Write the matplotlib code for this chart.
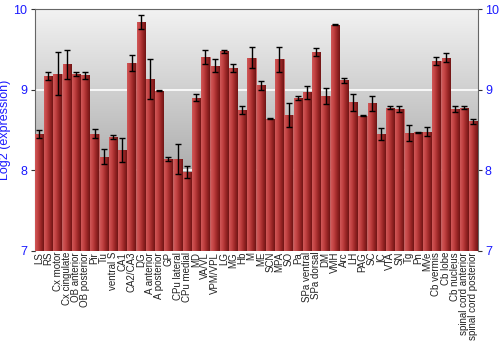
import matplotlib
matplotlib.use("Agg")
import matplotlib.pyplot as plt
import numpy as np

plt.rcParams['font.family'] = ['Liberation Sans', 'DejaVu Sans']

regiones = ["LS", "RS", "Cx motor", "Cx cingulate", "OB anterior", "OB posterior",
            "Pir", "Tu", "ventral S", "CA1", "CA2/CA3", "DG", "A anterior",
            "A posterior", "GP", "CPu lateral", "CPu medial", "MD", "VA/VL",
            "VPM/VPL", "LG", "MG", "Hb", "M", "ME", "SCN", "MPA", "SO", "Pa",
            "SPa ventral", "SPa dorsal", "DM", "VMH", "Arc", "LH", "PAG", "SC",
            "IC", "VTA", "SN", "Tg", "Pn", "MVe", "Cb vermis", "Cb lobe",
            "Cb nucleus", "spinal cord anterior", "spinal cord posterior"]

expresion = [8.45, 9.17, 9.20, 9.32, 9.20, 9.18, 8.455, 8.17, 8.41, 8.25,
             9.33, 9.84, 9.135, 8.99, 8.14, 8.14, 7.98, 8.90, 9.41, 9.30,
             9.48, 9.27, 8.745, 9.40, 9.056, 8.64, 9.38, 8.69, 8.90, 8.97,
             9.47, 8.92, 9.81, 9.12, 8.845, 8.68, 8.83, 8.45, 8.78, 8.76,
             8.46, 8.47, 8.48, 9.36, 9.40, 8.76, 8.78, 8.61]

error = [0.05, 0.05, 0.27, 0.18, 0.025, 0.045, 0.06, 0.09, 0.025, 0.15,
         0.10, 0.085, 0.25, 0.01, 0.02, 0.19, 0.075, 0.045, 0.083, 0.083,
         0.017, 0.054, 0.048, 0.127, 0.054, 0.008, 0.157, 0.15, 0.025, 0.083,
         0.046, 0.10, 0.005, 0.033, 0.105, 0.008, 0.093, 0.08, 0.017, 0.04,
         0.10, 0.008, 0.054, 0.054, 0.054, 0.04, 0.017, 0.03]

AZUL = '#1a1aff'

fig = plt.figure(figsize=(5, 3.5), dpi=100)
ax = fig.add_axes([0.069, 0.284, 0.887, 0.689])

x = np.arange(len(regiones))
ax.set_xlim(-0.5, len(regiones) - 0.5)
ax.set_ylim(7, 10)

# fondo degradado
grad = np.linspace(0, 1, 256).reshape(-1, 1)
fondo = matplotlib.colors.LinearSegmentedColormap.from_list('f', ['#8c8c8c', '#f2f2f2'])
ax.imshow(grad, aspect='auto', cmap=fondo, origin='lower',
          extent=[-0.5, len(regiones) - 0.5, 7, 10], zorder=0)

for y in [8, 9]:
    ax.axhline(y, color='white', linewidth=1.2, zorder=1)

barras = ax.bar(x, np.array(expresion) - 7, bottom=7, width=0.9,
                color='#b03030', edgecolor='#c86060', linewidth=0.6, zorder=2)

# degradado horizontal en cada barra
rojo = matplotlib.colors.LinearSegmentedColormap.from_list(
    'r', ['#d05858', '#c04040', '#9a2626', '#701515'])
tira = np.linspace(0, 1, 64).reshape(1, -1)
for b in barras:
    x0, w = b.get_x(), b.get_width()
    im = ax.imshow(tira, aspect='auto', cmap=rojo,
                   extent=[x0, x0 + w, 7, b.get_y() + b.get_height()], zorder=3)
    im.set_clip_path(b)

ax.errorbar(x, expresion, yerr=error, fmt='none', ecolor='black',
            elinewidth=1, capsize=2, capthick=1, zorder=4)

ax.set_xticks(x)
ax.set_xticklabels(regiones, rotation=90, fontsize=7, color='#222222')
ax.tick_params(axis='x', length=0, pad=1)
ax.set_yticks([7, 8, 9, 10])
ax.tick_params(axis='y', colors='#333333', labelcolor=AZUL, labelsize=9,
               length=3, right=True, labelright=True, direction='out', pad=2)
ax.set_ylabel('Log2 (expression)', color=AZUL, fontsize=9, labelpad=2)

for lado in ['top', 'left', 'right']:
    ax.spines[lado].set_color('#666666')
ax.spines['bottom'].set_visible(False)

fig.savefig('out.png', dpi=100)
